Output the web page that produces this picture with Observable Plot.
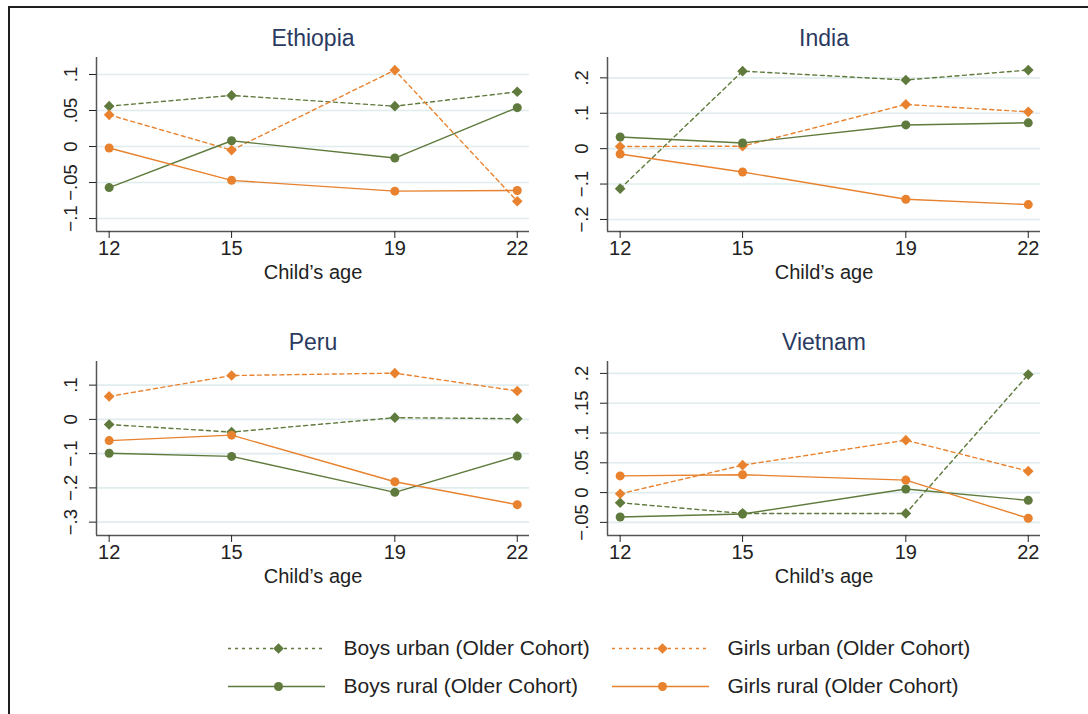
<!DOCTYPE html>
<html><head><meta charset="utf-8">
<script src="https://cdn.jsdelivr.net/npm/d3@7"></script>
<script src="https://cdn.jsdelivr.net/npm/@observablehq/plot@0.6"></script>
<style>
body{margin:0;background:#fff;}
#root{position:relative;width:1088px;height:714px;overflow:hidden;background:#fff;font-family:"Liberation Sans",Arial,sans-serif;}
.frame{position:absolute;left:8px;top:6px;right:-20px;bottom:-20px;border-left:2.6px solid #1e1e1e;border-top:2.6px solid #1e1e1e;}
.panel{position:absolute;}
</style></head><body><div id="root"><div class="frame"></div></div>
<script>
const ages = [12, 15, 19, 22];
const xTicks = [12, 15, 19, 22];
const seriesNames = ["Boys urban (Older Cohort)", "Girls urban (Older Cohort)", "Boys rural (Older Cohort)", "Girls rural (Older Cohort)"];
const seriesColors = ["#5f7a3c", "#e8822e", "#5f7a3c", "#e8822e"];
const seriesSymbols = ["diamond2", "diamond2", "circle", "circle"];
const seriesDashed = [true, true, false, false];
const countries = ["Ethiopia", "India", "Peru", "Vietnam"];

// rows: boys urban, girls urban, boys rural, girls rural ; values at ages 12,15,19,22
const ethiopia = [
  [0.056, 0.071, 0.056, 0.076],
  [0.044, -0.005, 0.106, -0.076],
  [-0.057, 0.008, -0.016, 0.054],
  [-0.002, -0.047, -0.062, -0.061]
];
const india = [
  [-0.113, 0.219, 0.194, 0.222],
  [0.006, 0.007, 0.125, 0.104],
  [0.033, 0.016, 0.067, 0.073],
  [-0.015, -0.066, -0.143, -0.158]
];
const peru = [
  [-0.015, -0.037, 0.005, 0.002],
  [0.067, 0.128, 0.135, 0.083],
  [-0.099, -0.108, -0.213, -0.107],
  [-0.062, -0.046, -0.182, -0.249]
];
const vietnam = [
  [-0.017, -0.035, -0.035, 0.198],
  [-0.002, 0.046, 0.088, 0.036],
  [-0.041, -0.036, 0.006, -0.013],
  [0.028, 0.030, 0.021, -0.043]
];
const ethiopiaTicks = [-0.1, -0.05, 0, 0.05, 0.1];
const indiaTicks = [-0.2, -0.1, 0, 0.1, 0.2];
const peruTicks = [-0.3, -0.2, -0.1, 0, 0.1];
const vietnamTicks = [-0.05, 0, 0.05, 0.1, 0.15, 0.2];

const xDomain = [11.69, 22.3];
const panels = [
  {name: countries[0], data: ethiopia, ticks: ethiopiaTicks, yDomain: [-0.118, 0.1236], left: 40, top: 0, mL: 56, mR: 21, mT: 57, mB: 69},
  {name: countries[1], data: india, ticks: indiaTicks, yDomain: [-0.234, 0.2575], left: 550, top: 0, mL: 57, mR: 20, mT: 57, mB: 69},
  {name: countries[2], data: peru, ticks: peruTicks, yDomain: [-0.339, 0.169], left: 40, top: 305, mL: 56, mR: 21, mT: 56, mB: 70},
  {name: countries[3], data: vietnam, ticks: vietnamTicks, yDomain: [-0.072, 0.220], left: 550, top: 305, mL: 57, mR: 20, mT: 56, mB: 70}
];

const fmt = v => v === 0 ? "0" : (v < 0 ? "\u2212" : "") + String(Math.abs(v)).replace(/^0\./, ".");
const root = document.getElementById("root");
const font = '"Liberation Sans", Arial, sans-serif';

for (const p of panels) {
  const rows = [];
  p.data.forEach((vals, si) => vals.forEach((v, i) => rows.push({age: ages[i], value: v, s: si})));
  const seriesMarks = [];
  seriesNames.forEach((nm, si) => {
    const d = rows.filter(r => r.s === si);
    seriesMarks.push(Plot.line(d, {x: "age", y: "value", stroke: seriesColors[si], strokeWidth: 1.4, strokeDasharray: seriesDashed[si] ? "4,3.5" : null}));
  });
  seriesNames.forEach((nm, si) => {
    const d = rows.filter(r => r.s === si);
    seriesMarks.push(Plot.dot(d, {x: "age", y: "value", symbol: seriesSymbols[si], r: seriesSymbols[si] === "circle" ? 4.5 : 4.8, fill: seriesColors[si], stroke: "none"}));
  });
  const chart = Plot.plot({
    width: 510, height: 300,
    marginLeft: p.mL, marginRight: p.mR, marginTop: p.mT, marginBottom: p.mB,
    style: {fontFamily: font, fontSize: "19px", background: "transparent", overflow: "visible", color: "#222"},
    x: {domain: xDomain},
    y: {domain: p.yDomain},
    marks: [
      Plot.gridY(p.ticks, {stroke: "#e0ecee", strokeOpacity: 1, strokeWidth: 1.6}),
      Plot.ruleX([xDomain[0]], {stroke: "#555", strokeWidth: 1.5}),
      Plot.ruleY([p.yDomain[0]], {stroke: "#555", strokeWidth: 1.5}),
      Plot.axisY(p.ticks, {tickSize: 7, tickFormat: () => "", label: null, stroke: "#222"}),
      Plot.axisX(xTicks, {tickSize: 7, tickFormat: () => "", label: null, stroke: "#222"}),
      Plot.text(p.ticks, {y: d => d, text: fmt, frameAnchor: "left", dx: -25, rotate: -90, textAnchor: "middle", lineAnchor: "middle", fontSize: 18.5, fill: "#222"}),
      Plot.text(xTicks, {x: d => d, text: d => String(d), frameAnchor: "bottom", dy: 17, lineAnchor: "middle", fontSize: 20, fill: "#222"}),
      ...seriesMarks,
      Plot.text([p.name], {text: d => d, frameAnchor: "top", lineAnchor: "middle", dy: -19, fontSize: 23, fill: "#2b3a60"}),
      Plot.text(["Child\u2019s age"], {text: d => d, frameAnchor: "bottom", lineAnchor: "middle", dy: 41, fontSize: 20, fill: "#222"})
    ]
  });
  const div = document.createElement("div");
  div.className = "panel";
  div.style.left = p.left + "px";
  div.style.top = p.top + "px";
  div.appendChild(chart);
  root.appendChild(div);
}

// legend
const items = seriesNames.map((nm, i) => ({name: nm, col: i % 2, row: Math.floor(i / 2), i}));
const lineLen = 97 / 384, markPos = 50 / 384, textPos = 115 / 384;
const legendMarks = [];
items.forEach(it => {
  legendMarks.push(Plot.ruleY([it], {y: "row", x1: d => d.col, x2: d => d.col + lineLen, stroke: seriesColors[it.i], strokeWidth: 1.6, strokeDasharray: seriesDashed[it.i] ? "3,4" : null}));
  legendMarks.push(Plot.dot([it], {x: d => d.col + markPos, y: "row", symbol: seriesSymbols[it.i], r: seriesSymbols[it.i] === "circle" ? 4.5 : 4.8, fill: seriesColors[it.i], stroke: "none"}));
});
legendMarks.push(Plot.text(items, {x: d => d.col + textPos, y: "row", text: "name", textAnchor: "start", fontSize: 21, fill: "#222"}));
const legend = Plot.plot({
  width: 1088, height: 90, margin: 0,
  style: {fontFamily: font, fontSize: "21px", background: "transparent", overflow: "visible"},
  x: {domain: [0, 1], range: [228, 612], axis: null},
  y: {domain: [0, 1], range: [28, 66], axis: null},
  marks: legendMarks
});
const ldiv = document.createElement("div");
ldiv.className = "panel";
ldiv.style.left = "0px";
ldiv.style.top = "620px";
ldiv.appendChild(legend);
root.appendChild(ldiv);
</script>
</body></html>
